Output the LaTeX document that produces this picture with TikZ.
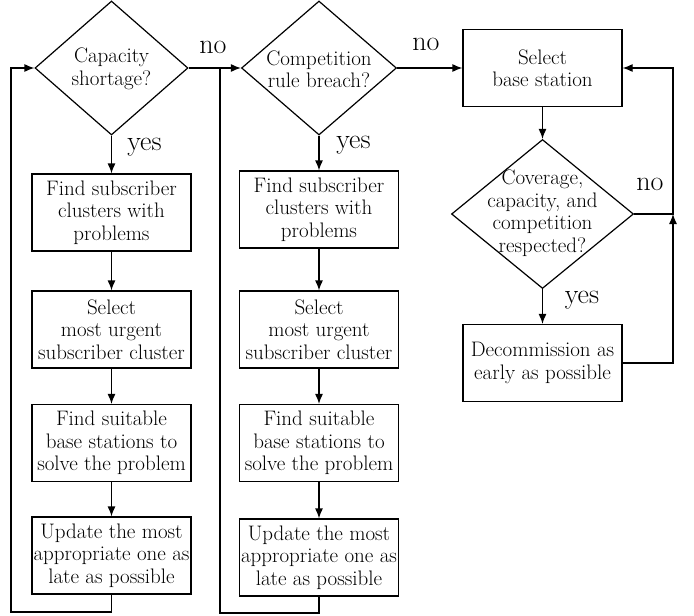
\documentclass[tikz,border=0pt]{standalone}
\usetikzlibrary{shapes.geometric,arrows.meta}
\begin{document}
\begin{tikzpicture}[x=1pt,y=-1pt,
  every node/.style={font=\fontsize{21}{22.5}\selectfont},
  conn/.style={line width=1.2pt},
  arr/.style={conn,-{Latex[length=10pt,width=8pt]}},
  boxnode/.style={draw,line width=1.2pt,minimum width=159pt,minimum height=77pt,inner sep=0pt,align=center},
  dianode/.style={draw,line width=1.2pt,shape=diamond,inner sep=0pt},
  txt/.style={align=center,inner sep=0pt},
  lab/.style={inner sep=0pt,anchor=base,font=\fontsize{28}{30}\selectfont}]
\useasboundingbox (0,0) rectangle (694,616);

% left column
\node[dianode,minimum width=153pt,minimum height=134pt] (d1) at (111.5,68) {};
\node[txt] (d1t) at (111.5,69) {Capacity\\shortage?};
\node[boxnode] (b1) at (111.5,212.5) {Find subscriber\\clusters with\\problems};
\node[boxnode] (b2) at (111.5,329.5) {Select\\most urgent\\subscriber cluster};
\node[boxnode] (b3) at (111.5,443) {Find suitable\\base stations to\\solve the problem};
\node[boxnode] (b4) at (111.5,555.5) {Update the most\\appropriate one as\\late as possible};

% middle column
\node[dianode,minimum width=155pt,minimum height=134pt] (d2) at (319,68) {};
\node[txt] (d2t) at (319,69) {Competition\\rule breach?};
\node[boxnode] (m1) at (319,209.5) {Find subscriber\\clusters with\\problems};
\node[boxnode] (m2) at (319,329.5) {Select\\most urgent\\subscriber cluster};
\node[boxnode] (m3) at (319,443) {Find suitable\\base stations to\\solve the problem};
\node[boxnode] (m4) at (319,557.5) {Update the most\\appropriate one as\\late as possible};

% right column
\node[boxnode] (s1) at (542.5,68) {Select\\base station};
\node[dianode,minimum width=182pt,minimum height=149pt] (d3) at (542.5,214) {};
\node[txt] (d3t) at (542.5,213) {Coverage,\\capacity, and\\competition\\respected?};
\node[boxnode] (dc) at (542.5,363) {Decommission as\\early as possible};

% labels
\node[lab] (n1) at (213,53) {no};
\node[lab] (y1) at (144.5,150) {yes};
\node[lab] (n2) at (426,50) {no};
\node[lab] (y2) at (353.5,148) {yes};
\node[lab] (n3) at (650,190) {no};
\node[lab] (y3) at (582,303) {yes};

% coordinates
\coordinate (lb) at (11,612);
\coordinate (j1) at (220,68);
\coordinate (mb) at (220,613);
\coordinate (r1) at (673,214);

% connectors left
\draw[arr] (d1.south) -- (b1.north);
\draw[arr] (b1) -- (b2);
\draw[arr] (b2) -- (b3);
\draw[arr] (b3) -- (b4);
\draw[arr] (b4.south) |- (lb) |- (d1.west);
\draw[arr] (d1.east) -- (d2.west);

% connectors middle
\draw[arr] (d2.south) -- (m1.north);
\draw[arr] (m1) -- (m2);
\draw[arr] (m2) -- (m3);
\draw[arr] (m3) -- (m4);
\draw[conn] (m4.south) |- (mb) -- (j1);
\draw[arr] (d2.east) -- (s1.west);

% connectors right
\draw[arr] (s1) -- (d3.north);
\draw[arr] (d3.south) -- (dc.north);
\draw[arr] (d3.east) -- (r1) |- (s1.east);
\draw[arr] (dc.east) -| (r1);
\end{tikzpicture}
\end{document}
